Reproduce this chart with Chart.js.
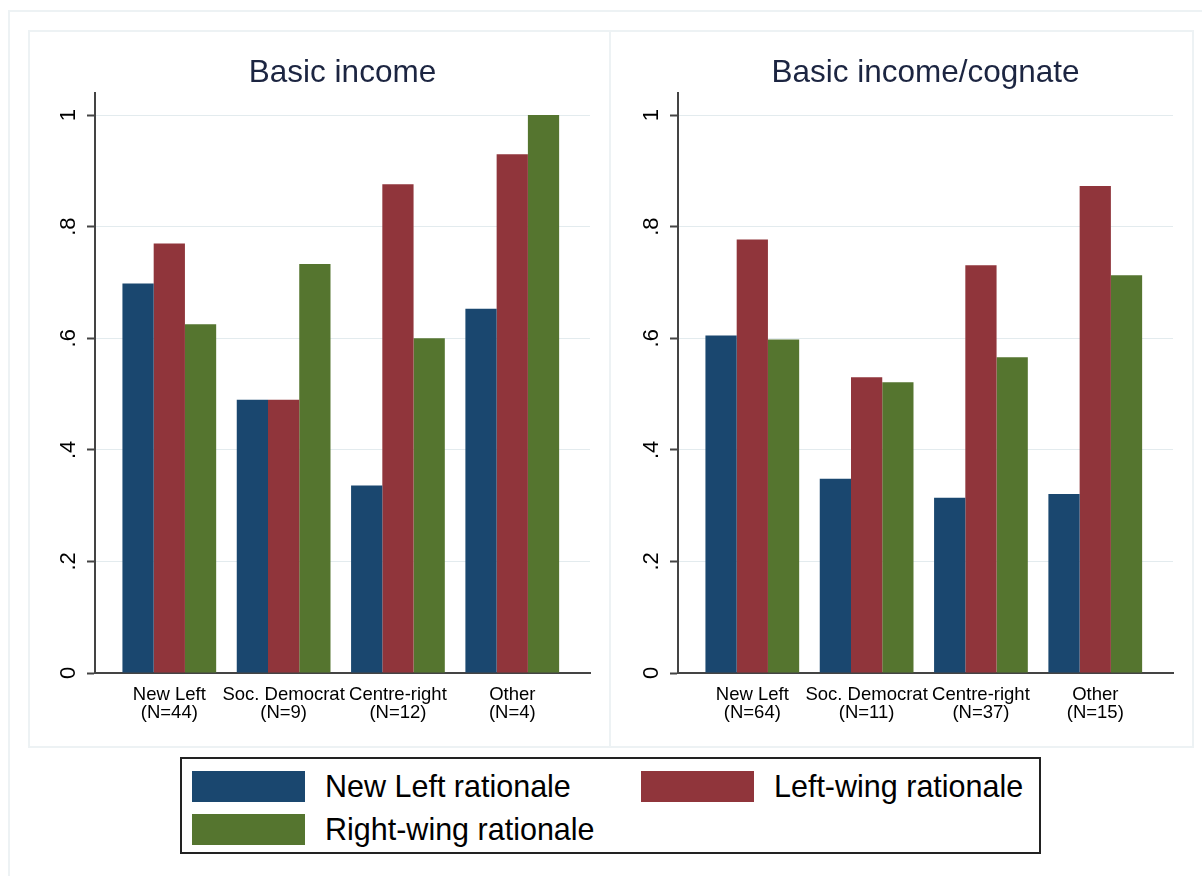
<!DOCTYPE html>
<html>
<head>
<meta charset="utf-8">
<script src="https://cdn.jsdelivr.net/npm/chart.js@4.4.1/dist/chart.umd.min.js"></script>
<style>
  html, body { margin: 0; padding: 0; background: #fff; }
  body { width: 1202px; height: 876px; position: relative; overflow: hidden; font-family: "Liberation Sans", Arial, sans-serif; }
  .frame { position: absolute; left: 8px; top: 10px; width: 1300px; height: 1000px; border-left: 2px solid #edf2f4; border-top: 2px solid #edf2f4; }
  .panel { position: absolute; top: 30px; height: 714px; border: 2px solid #edf2f4; background: #fff; }
  canvas { position: absolute; top: 30px; }
  #legend { position: absolute; left: 180px; top: 757px; width: 861px; height: 97px; border: 2px solid #222; box-sizing: border-box; }
  .item { position: absolute; display: flex; align-items: center; height: 32px; }
  .sw { width: 113px; height: 31px; margin-right: 20px; }
  .lbl { font-size: 30.5px; color: #000; white-space: nowrap; }
</style>
</head>
<body>
<div class="frame"></div>
<div class="panel" style="left:28px;width:579px"></div>
<div class="panel" style="left:609px;width:581px"></div>
<canvas id="chartLeft" width="581" height="716" style="left:28px"></canvas>
<canvas id="chartRight" width="581" height="716" style="left:611px"></canvas>
<div id="legend"></div>
<script>
const categories = ['New Left', 'Soc. Democrat', 'Centre-right', 'Other'];
const countsLeft = ['(N=44)', '(N=9)', '(N=12)', '(N=4)'];
const countsRight = ['(N=64)', '(N=11)', '(N=37)', '(N=15)'];
const seriesNames = ['New Left rationale', 'Left-wing rationale', 'Right-wing rationale'];
const colores = ['#1a476f', '#90353b', '#55752f'];
const yTicks = [0, 0.2, 0.4, 0.6, 0.8, 1];

// Basic income
const basicNewLeft = [0.698, 0.490, 0.336, 0.653];
const basicLeftWing = [0.770, 0.490, 0.876, 0.930];
const basicRightWing = [0.625, 0.733, 0.600, 1.000];

// Basic income/cognate
const cognateNewLeft = [0.605, 0.348, 0.314, 0.321];
const cognateLeftWing = [0.777, 0.530, 0.731, 0.873];
const cognateRightWing = [0.598, 0.521, 0.566, 0.713];

const axisColor = '#444';
const gridColor = '#e3ebee';

const rotatedYLabels = {
    id: 'rotatedYLabels',
    afterDraw(chart) {
        const ctx = chart.ctx;
        const y = chart.scales.y;
        const x = chart.chartArea.left - 26;
        ctx.save();
        ctx.font = '22px "Liberation Sans", Arial, sans-serif';
        ctx.fillStyle = '#000';
        ctx.textAlign = 'center';
        ctx.textBaseline = 'middle';
        yTicks.forEach(v => {
            const label = v === 0 ? '0' : v === 1 ? '1' : String(v).replace('0.', '.');
            ctx.save();
            ctx.translate(x, y.getPixelForValue(v));
            ctx.rotate(-Math.PI / 2);
            ctx.fillText(label, 0, 0);
            ctx.restore();
        });
        ctx.restore();
    }
};

function makeChart(id, title, counts, series) {
    return new Chart(document.getElementById(id), {
        type: 'bar',
        data: {
            datasets: series.map((values, i) => ({
                label: seriesNames[i],
                data: values.map((v, j) => ({ x: j, y: v })),
                backgroundColor: colores[i],
                borderWidth: 0,
                barPercentage: 1,
                categoryPercentage: 0.82
            }))
        },
        options: {
            responsive: false,
            animation: false,
            layout: { padding: { left: 0, right: 19, top: 0, bottom: 0 } },
            plugins: {
                legend: { display: false },
                tooltip: { enabled: false },
                title: {
                    display: true,
                    text: title,
                    fullSize: false,
                    color: '#1c2541',
                    font: { family: '"Liberation Sans", Arial, sans-serif', size: 31.5, weight: 'normal' },
                    padding: { top: 24, bottom: 1 }
                }
            },
            scales: {
                x: {
                    type: 'linear',
                    offset: false,
                    min: -0.65,
                    max: 3.68,
                    grid: { display: false },
                    border: { display: true, color: axisColor, width: 2 },
                    afterBuildTicks: axis => { axis.ticks = categories.map((c, i) => ({ value: i })); },
                    afterFit: axis => { axis.height = 73; },
                    ticks: {
                        autoSkip: false,
                        maxRotation: 0,
                        minRotation: 0,
                        padding: 5,
                        color: '#000',
                        font: { family: '"Liberation Sans", Arial, sans-serif', size: 18.5, lineHeight: 0.97 },
                        callback: (value, index) => [categories[index], counts[index]]
                    }
                },
                y: {
                    min: 0,
                    max: 1.04,
                    afterBuildTicks: axis => { axis.ticks = yTicks.map(v => ({ value: v })); },
                    afterFit: axis => { axis.width = 67; },
                    grid: {
                        color: gridColor,
                        lineWidth: 1,
                        drawTicks: true,
                        tickLength: 8,
                        tickColor: axisColor,
                        tickWidth: 2
                    },
                    border: { display: true, color: axisColor, width: 2 },
                    ticks: { display: false }
                }
            }
        },
        plugins: [rotatedYLabels]
    });
}

makeChart('chartLeft', 'Basic income', countsLeft, [basicNewLeft, basicLeftWing, basicRightWing]);
makeChart('chartRight', 'Basic income/cognate', countsRight, [cognateNewLeft, cognateLeftWing, cognateRightWing]);

// legend: two columns, three entries
const legend = document.getElementById('legend');
const legendPos = [[10, 11], [459, 11], [10, 54]];
seriesNames.forEach((name, i) => {
    const item = document.createElement('div');
    item.className = 'item';
    item.style.left = legendPos[i][0] + 'px';
    item.style.top = legendPos[i][1] + 'px';
    item.innerHTML = '<div class="sw" style="background:' + colores[i] + '"></div><span class="lbl">' + name + '</span>';
    legend.appendChild(item);
});
</script>
</body>
</html>
